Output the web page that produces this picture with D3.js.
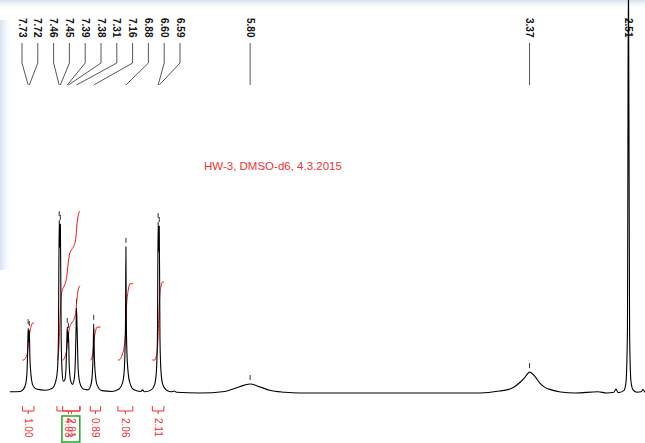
<!DOCTYPE html>
<html>
<head>
<meta charset="utf-8">
<script src="https://cdn.jsdelivr.net/npm/d3@7"></script>
<style>
  html, body { margin: 0; padding: 0; background: #fff; }
  svg { display: block; }
</style>
</head>
<body>
<svg id="chart" width="645" height="443"></svg>
<script>
// picked peaks (ppm)
const peakPpm = [7.73, 7.72, 7.46, 7.45, 7.39, 7.38, 7.31, 7.16, 6.88, 6.60, 6.59, 5.80, 3.37, 2.51];

// spectrum trace: shift (ppm) and intensity (% of plot height)
const tracePpm = [
  7.89, 7.80, 7.77, 7.75, 7.74, 7.735, 7.73, 7.725, 7.72, 7.715, 7.705, 7.69, 7.66,
  7.58, 7.52, 7.49, 7.475, 7.467, 7.46, 7.455, 7.45, 7.443, 7.435, 7.425, 7.41,
  7.40, 7.393, 7.39, 7.385, 7.38, 7.373, 7.36, 7.345, 7.33, 7.32, 7.313, 7.31,
  7.305, 7.295, 7.28, 7.25, 7.21, 7.185, 7.172, 7.165, 7.16, 7.155, 7.145, 7.13,
  7.09, 7.00, 6.94, 6.91, 6.895, 6.887, 6.883, 6.88, 6.877, 6.872, 6.86, 6.845,
  6.81, 6.75, 6.735, 6.72, 6.66, 6.63, 6.615, 6.606, 6.60, 6.595, 6.59, 6.584,
  6.575, 6.56, 6.53, 6.49, 6.46, 6.44, 6.24, 6.02, 5.93, 5.85, 5.80, 5.71, 5.63,
  5.50, 5.37, 3.80, 3.63, 3.54, 3.50, 3.45, 3.41, 3.37, 3.32, 3.28, 3.24, 3.18,
  3.10, 2.97, 2.775, 2.70, 2.636, 2.618, 2.60, 2.55, 2.532, 2.519, 2.51, 2.50,
  2.488, 2.47, 2.436, 2.40, 2.384, 2.366
];
const traceInt = [
  0.3, 0.4, 1.0, 2.5, 5.5, 10, 16.5, 13, 16.0, 9, 4.5, 2.0, 1.0,
  0.7, 1.2, 3.0, 6, 14, 44, 37, 43, 14, 5.5, 3, 3.5,
  7, 14, 16.8, 13, 15.5, 7, 3, 2.2, 3.5, 8, 17, 21.6,
  17, 6, 2.5, 1.0, 0.8, 2.0, 5, 10, 17.6, 10, 4.5, 2.0,
  0.6, 0.4, 1.0, 2.5, 5.5, 12, 20, 37.2, 20, 11, 5, 2.5,
  0.8, 0.4, 0.8, 0.3, 0.8, 2.2, 5.5, 14, 43.5, 36, 42.5, 14,
  5.5, 2.2, 0.8, 0.3, 0.5, 0.2, 0, 0.4, 1.2, 2.0, 2.3, 1.5, 0.7,
  0.2, 0, 0, 0.5, 1.0, 1.6, 2.8, 4.0, 5.3, 4.1, 2.5, 1.5, 0.8,
  0.25, 0, 0.3, 0, 0.2, 1.0, 0.1, 0.6, 2.5, 15, 110, 15,
  3, 0.8, 0.2, 0.3, 0.9, 0.1
];

// integrals
const integralFrom = [7.78, 7.48, 7.43, 7.19, 6.95, 6.65];
const integralTo = [7.68, 7.28, 7.28, 7.10, 6.82, 6.55];
const integralValues = ['1.00', '4.03', '2.01', '0.89', '2.06', '2.11'];
const highlighted = [1, 2];

const title = 'HW-3, DMSO-d6, 4.3.2015';

const W = 645, H = 443;
const svg = d3.select('#chart');

const x = d3.scaleLinear().domain([7.975, 2.366]).range([0, 645]);
const y = d3.scaleLinear().domain([0, 100]).range([393, 0]);
const intY = d3.scaleLinear().domain([0, 1]).range([360, 323]);

// faint screenshot edges
const defs = svg.append('defs');
const tg = defs.append('linearGradient').attr('id', 'topFade')
  .attr('x1', 0).attr('y1', 0).attr('x2', 0).attr('y2', 1);
tg.append('stop').attr('offset', 0).attr('stop-color', '#c9d9e8').attr('stop-opacity', 0.8);
tg.append('stop').attr('offset', 1).attr('stop-color', '#fff').attr('stop-opacity', 0);
const lg = defs.append('linearGradient').attr('id', 'leftFade')
  .attr('x1', 0).attr('y1', 0).attr('x2', 1).attr('y2', 0);
lg.append('stop').attr('offset', 0).attr('stop-color', '#cfdff0').attr('stop-opacity', 0.9);
lg.append('stop').attr('offset', 1).attr('stop-color', '#fff').attr('stop-opacity', 0);
svg.append('rect').attr('x', 0).attr('y', 0).attr('width', W).attr('height', 9).attr('fill', 'url(#topFade)');
svg.append('rect').attr('x', 0).attr('y', 20).attr('width', 13).attr('height', 250).attr('fill', 'url(#leftFade)');

// title
svg.append('text')
  .attr('x', 204).attr('y', 169.5)
  .attr('font-family', 'Liberation Sans, Arial, sans-serif')
  .attr('font-size', 11.5)
  .attr('fill', '#f03333')
  .text(title);

// peak label layout: spread labels that would collide, keep order
const G = 15.8, leftBound = 22;
const peakX = peakPpm.map(p => x(p));
const clusters = [];
peakX.forEach((p, i) => {
  clusters.push({ first: i, n: 1, sum: p, start: Math.max(leftBound, p) });
  while (clusters.length > 1) {
    const a = clusters[clusters.length - 2], b = clusters[clusters.length - 1];
    if (a.start + a.n * G <= b.start) break;
    const n = a.n + b.n;
    const sum = a.sum + b.sum - b.n * a.n * G;
    clusters.splice(-2, 2, { first: a.first, n: n, sum: sum, start: Math.max(leftBound, sum / n) });
  }
});
const labelX = [];
clusters.forEach(c => { for (let k = 0; k < c.n; k++) labelX[c.first + k] = c.start + k * G; });

const peakG = svg.append('g');
peakG.selectAll('path.conn')
  .data(peakPpm)
  .join('path')
  .attr('class', 'conn')
  .attr('fill', 'none')
  .attr('stroke', '#444')
  .attr('stroke-width', 0.9)
  .attr('d', (d, i) => `M${labelX[i]},43V63L${peakX[i]},85`);

peakG.selectAll('text')
  .data(peakPpm)
  .join('text')
  .attr('transform', (d, i) => `translate(${labelX[i] - 3.5},18) rotate(90)`)
  .attr('font-family', 'Liberation Sans, Arial, sans-serif')
  .attr('font-size', 10)
  .attr('font-weight', 'bold')
  .attr('fill', '#111')
  .text(d => d.toFixed(2));

// peak pick markers
const apex = p => traceInt[tracePpm.indexOf(p)];
peakG.selectAll('line.mark')
  .data(peakPpm.filter(p => y(apex(p)) > 20))
  .join('line')
  .attr('class', 'mark')
  .attr('x1', d => x(d)).attr('x2', d => x(d))
  .attr('y1', d => y(apex(d)) - 9)
  .attr('y2', d => y(apex(d)) - 4)
  .attr('stroke', '#333')
  .attr('stroke-width', 1);

// integral curves
const intLine = d3.line().x(d => x(d[0])).y(d => intY(d[1])).curve(d3.curveMonotoneX);
const intG = svg.append('g');
integralFrom.forEach((from, i) => {
  const to = integralTo[i];
  const idx = d3.range(tracePpm.length).filter(j => tracePpm[j] <= from && tracePpm[j] >= to);
  let acc = 0;
  const pts = [[from, 0]];
  idx.forEach((j, k) => {
    if (k > 0) {
      const j0 = idx[k - 1];
      acc += (tracePpm[j0] - tracePpm[j]) * (traceInt[j0] + traceInt[j]) / 2;
    }
    pts.push([tracePpm[j], acc]);
  });
  pts.push([to, acc]);
  const v = +integralValues[i];
  intG.append('path')
    .datum(pts.map(d => [d[0], d[1] / acc * v]))
    .attr('fill', 'none')
    .attr('stroke', '#f01010')
    .attr('stroke-width', 1)
    .attr('d', intLine);

  // bracket and value under the axis
  const x1 = x(from), x2 = x(to), xm = (x1 + x2) / 2;
  intG.append('path')
    .attr('fill', 'none')
    .attr('stroke', '#f03030')
    .attr('stroke-width', 1)
    .attr('d', `M${x1},406V411H${x2}V406M${xm},411V414`);
  intG.append('text')
    .attr('transform', `translate(${xm - 3.5},418) rotate(90)`)
    .attr('font-family', 'Liberation Sans, Arial, sans-serif')
    .attr('font-size', 10)
    .attr('fill', '#f03030')
    .text(integralValues[i]);
});

// highlight box round the overlapping labels
const hx = highlighted.map(i => (x(integralFrom[i]) + x(integralTo[i])) / 2);
svg.append('rect')
  .attr('x', d3.min(hx) - 6.5).attr('y', 416)
  .attr('width', d3.max(hx) - d3.min(hx) + 15).attr('height', 26)
  .attr('fill', 'none')
  .attr('stroke', '#2eaa2e')
  .attr('stroke-width', 1.6);

// spectrum
const line = d3.line()
  .x((d, i) => x(tracePpm[i]))
  .y((d, i) => y(traceInt[i]))
  .curve(d3.curveMonotoneX);
svg.append('path')
  .datum(traceInt)
  .attr('fill', 'none')
  .attr('stroke', '#000')
  .attr('stroke-width', 1.1)
  .attr('stroke-linejoin', 'round')
  .attr('d', line);
</script>
</body>
</html>
